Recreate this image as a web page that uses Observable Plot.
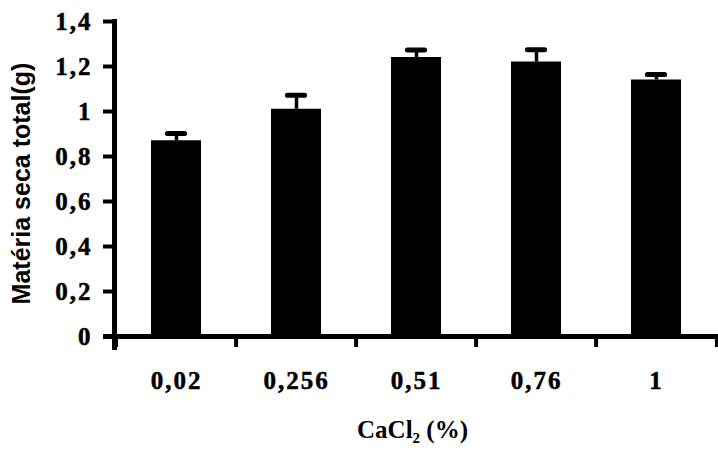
<!DOCTYPE html>
<html>
<head>
<meta charset="utf-8">
<script src="https://cdn.jsdelivr.net/npm/d3@7"></script>
<script src="https://cdn.jsdelivr.net/npm/@observablehq/plot@0.6"></script>
<style>
  html, body { margin: 0; padding: 0; background: #fff; }
  g[aria-label="y-axis tick label"], g[aria-label="x-axis tick label"] { letter-spacing: 2px; stroke: #000; stroke-width: 0.5px; }
</style>
</head>
<body>
<div id="chart"></div>
<script>
const categories = ["0,02", "0,256", "0,51", "0,76", "1"];
const means = [0.87, 1.01, 1.24, 1.22, 1.14];
const errors = [0.032, 0.062, 0.033, 0.055, 0.025];
const yTicks = [0, 0.2, 0.4, 0.6, 0.8, 1, 1.2, 1.4];
const yLabel = "Matéria seca total(g)";
const xLabel = "CaCl₂ (%)";

const data = categories.map((c, i) => ({c, v: means[i], e: errors[i]}));

const W = 718, H = 450, mL = 114, mR = 0, mT = 21, mB = 114;
const step = (W - mL - mR) / categories.length;
const capW = 18;

const chart = Plot.plot({
  width: W, height: H,
  marginLeft: mL, marginRight: mR, marginTop: mT, marginBottom: mB,
  style: {fontFamily: "'Liberation Serif', serif", fontWeight: "bold", color: "#000", background: "#fff"},
  x: {type: "band", domain: categories, padding: 0, axis: null},
  y: {domain: [0, 1.4], axis: null},
  marks: [
    Plot.barY(data, {x: "c", y: "v", fill: "#000", insetLeft: 35, insetRight: 35}),
    Plot.ruleX(data, {x: "c", y1: "v", y2: d => d.v + d.e, stroke: "#000", strokeWidth: 3.5}),
    Plot.tickY(data, {x: "c", y: d => d.v + d.e, stroke: "#000", strokeWidth: 5, strokeLinecap: "round",
      insetLeft: (step - capW) / 2, insetRight: (step - capW) / 2}),
    Plot.ruleY([0], {stroke: "#000", strokeWidth: 5, insetLeft: -11}),
    Plot.frame({anchor: "left", stroke: "#000", strokeWidth: 5, insetBottom: -11}),
    Plot.axisY({ticks: yTicks, tickSize: 11, tickPadding: 11, strokeWidth: 4, fontSize: 25,
      tickFormat: d => String(d).replace(".", ","), label: null}),
    Plot.axisX({tickSize: 0, tickPadding: 35, fontSize: 25, label: null}),
    Plot.ruleX(categories, {x: d => d, y1: 0, y2: 0, insetBottom: -11, dx: -step / 2, stroke: "#000", strokeWidth: 4}),
    Plot.ruleX(categories.slice(-1), {x: d => d, y1: 0, y2: 0, insetBottom: -11, dx: step / 2, stroke: "#000", strokeWidth: 4}),
    Plot.text([yLabel], {text: d => d, frameAnchor: "left", textAnchor: "middle", rotate: -90, dx: -93, dy: 4.5,
      fontFamily: "'Liberation Sans', sans-serif", fontSize: 25, fontWeight: "bold", fill: "#000"}),
    Plot.text([xLabel], {text: d => d, frameAnchor: "bottom", lineAnchor: "middle", dx: -4, dy: 93,
      fontSize: 25, fontWeight: "bold", fill: "#000"})
  ]
});
document.getElementById("chart").appendChild(chart);
</script>
</body>
</html>
